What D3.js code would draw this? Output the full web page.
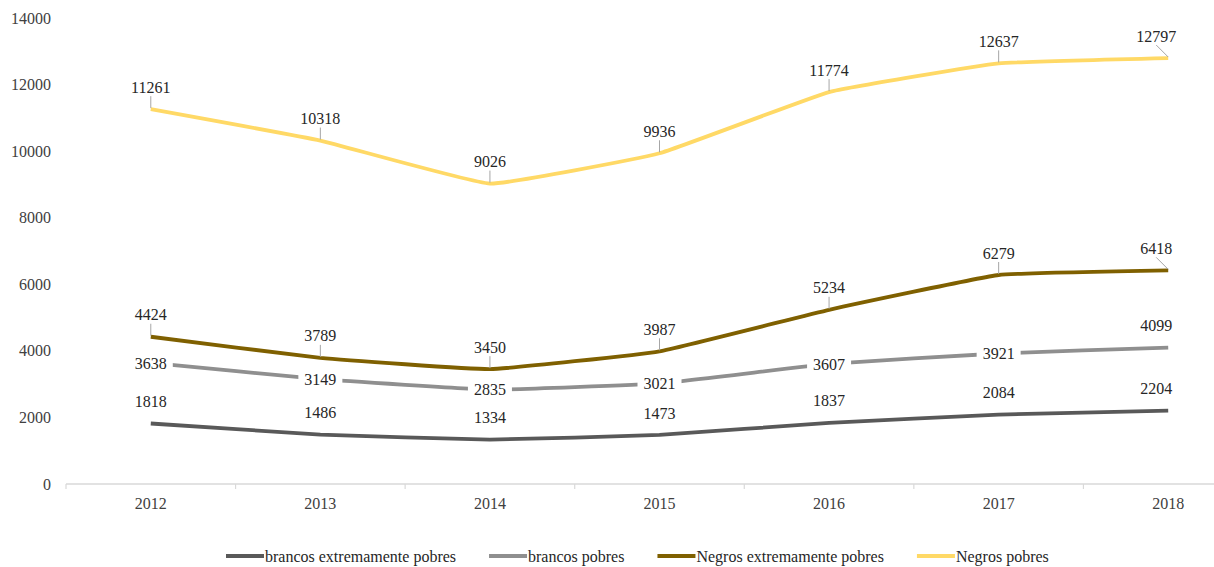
<!DOCTYPE html>
<html>
<head>
<meta charset="utf-8">
<script src="https://cdn.jsdelivr.net/npm/d3@7"></script>
<style>
  html, body { margin: 0; padding: 0; background: #fff; }
  svg { display: block; }
  svg text { font-family: "Liberation Serif", "Times New Roman", Times, "DejaVu Serif", serif; }
</style>
</head>
<body>
<svg id="chart" width="1214" height="567"></svg>
<script>
// Years on the category axis
const years = ["2012", "2013", "2014", "2015", "2016", "2017", "2018"];

// Series values (thousands of people)
const brancosExtremamentePobres = [1818, 1486, 1334, 1473, 1837, 2084, 2204];
const brancosPobres = [3638, 3149, 2835, 3021, 3607, 3921, 4099];
const negrosExtremamentePobres = [4424, 3789, 3450, 3987, 5234, 6279, 6418];
const negrosPobres = [11261, 10318, 9026, 9936, 11774, 12637, 12797];

const seriesNames = ["brancos extremamente pobres", "brancos pobres", "Negros extremamente pobres", "Negros pobres"];

// Value-axis ticks
const yTicks = [0, 2000, 4000, 6000, 8000, 10000, 12000, 14000];

// Drawing styles
const FONT = "'Liberation Serif', 'Times New Roman', Times, 'DejaVu Serif', serif";
const colors = ["#595959", "#8f8f8f", "#7f6000", "#ffd966"];
// how each series places its value labels: above the point, or centred on it over a white box
const labelModes = [
  ["above", "above", "above", "above", "above", "above", "above"],
  ["center", "center", "center", "center", "center", "center", "above"],
  ["above", "above", "above", "above", "above", "above", "above"],
  ["above", "above", "above", "above", "above", "above", "above"]
];
const leaderLines = [false, false, true, true];

const seriesValues = [brancosExtremamentePobres, brancosPobres, negrosExtremamentePobres, negrosPobres];
const series = seriesNames.map((name, i) => ({
  name, color: colors[i], modes: labelModes[i], leader: leaderLines[i],
  values: seriesValues[i].map((v, j) => ({ year: years[j], value: v }))
}));

const svg = d3.select("#chart");

const x = d3.scaleBand().domain(years).range([66, 1253]);
const y = d3.scaleLinear().domain([0, 14000]).range([484, 18]);
const cx = d => x(d) + x.bandwidth() / 2;

// value axis labels (no axis line)
const yAxis = d3.axisLeft(y).tickValues(yTicks).tickFormat(d3.format("d")).tickSize(0).tickPadding(0);
const yg = svg.append("g").attr("transform", "translate(51,0)").call(yAxis)
  .attr("font-family", FONT).attr("font-size", 16);
yg.select(".domain").remove();
yg.selectAll("text").attr("fill", "#404040");

// category axis
const xg = svg.append("g").attr("transform", "translate(0,484)");
xg.append("line").attr("x1", 66).attr("x2", 1253)
  .attr("stroke", "#d9d9d9").attr("stroke-width", 1.5);
const boundaries = years.map(d => x(d)).concat([x(years[years.length - 1]) + x.bandwidth()]);
xg.selectAll("line.tick").data(boundaries).join("line").attr("class", "tick")
  .attr("x1", d => d).attr("x2", d => d).attr("y1", 0).attr("y2", 5)
  .attr("stroke", "#d9d9d9").attr("stroke-width", 1.2);
xg.selectAll("text").data(years).join("text")
  .attr("x", d => cx(d)).attr("y", 19).attr("dy", "0.35em")
  .attr("text-anchor", "middle").attr("font-family", FONT).attr("font-size", 16).attr("fill", "#404040")
  .text(d => d);

// lightly smoothed lines
const line = d3.line()
  .x(d => cx(d.year)).y(d => y(d.value))
  .curve(d3.curveCardinal.tension(0.7));

svg.append("g").selectAll("path").data(series).join("path")
  .attr("d", s => line(s.values))
  .attr("fill", "none").attr("stroke", d => d.color)
  .attr("stroke-width", 3.8).attr("stroke-linecap", "butt").attr("stroke-linejoin", "round");

// value labels
const labels = svg.append("g").attr("font-family", FONT);
series.forEach(s => {
  s.values.forEach((d, j) => {
    const px = cx(d.year);
    const py = y(d.value);
    const last = j === s.values.length - 1;
    const lx = px + (last ? -12 : 0);
    const mode = s.modes[j];
    if (mode === "center") {
      labels.append("rect")
        .attr("x", lx - 22).attr("y", py - 9).attr("width", 44).attr("height", 18)
        .attr("fill", "#fff");
      labels.append("text")
        .attr("x", lx).attr("y", py).attr("dy", "0.35em")
        .attr("text-anchor", "middle").attr("font-size", 16).attr("fill", "#262626")
        .text(d.value);
    } else {
      const ly = py - 22;
      if (s.leader) {
        labels.append("line")
          .attr("x1", lx).attr("y1", ly + 9).attr("x2", px).attr("y2", py - 1)
          .attr("stroke", "#a6a6a6").attr("stroke-width", 1);
      }
      labels.append("text")
        .attr("x", lx).attr("y", ly).attr("dy", "0.35em")
        .attr("text-anchor", "middle").attr("font-size", 16).attr("fill", "#262626")
        .text(d.value);
    }
  });
});

// legend
const legend = svg.append("g").attr("transform", "translate(0,556)").attr("font-family", FONT);
let lxPos = 226;
series.forEach(s => {
  legend.append("line")
    .attr("x1", lxPos).attr("x2", lxPos + 38).attr("y1", 0).attr("y2", 0)
    .attr("stroke", s.color).attr("stroke-width", 4);
  const t = legend.append("text")
    .attr("x", lxPos + 39).attr("y", 0).attr("dy", "0.35em")
    .attr("font-size", 16).attr("fill", "#262626")
    .text(s.name);
  lxPos += 39 + t.node().getComputedTextLength() + 33;
});
</script>
</body>
</html>
